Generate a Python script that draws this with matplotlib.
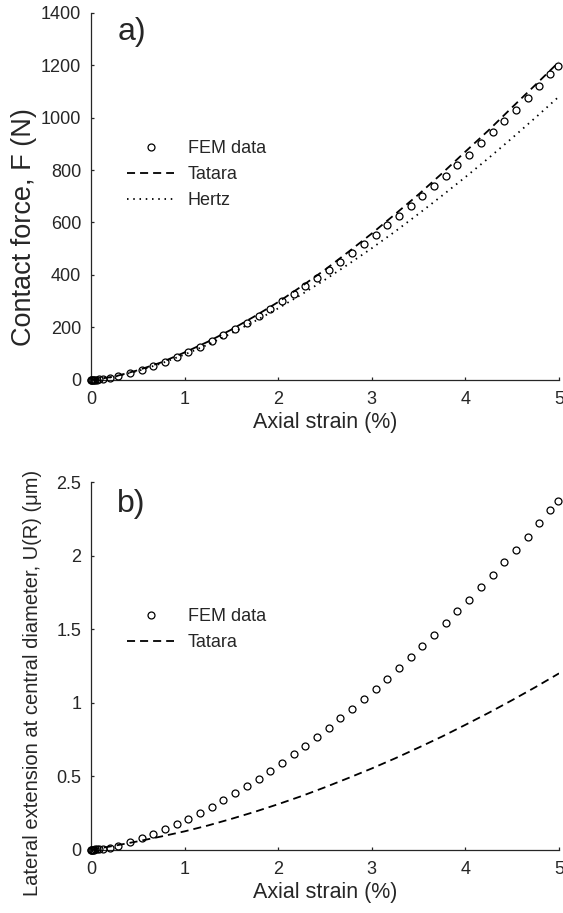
import numpy as np
import matplotlib
matplotlib.use("Agg")
import matplotlib.pyplot as plt
from matplotlib.lines import Line2D

# ------------------- DATEN -------------------
# FEM-Punkte (Dehnung in %)
fem_dehnung = [0, 0.005, 0.01, 0.02, 0.03, 0.045, 0.065, 0.09, 0.13, 0.2,
               0.29, 0.417, 0.54, 0.667, 0.79, 0.915, 1.04, 1.165, 1.29, 1.415,
               1.54, 1.665, 1.79, 1.915, 2.04, 2.165, 2.29, 2.415, 2.54, 2.665,
               2.79, 2.915, 3.04, 3.165, 3.29, 3.415, 3.54, 3.665, 3.79, 3.915,
               4.04, 4.165, 4.29, 4.415, 4.54, 4.665, 4.79, 4.905, 4.993]

# a) Kontaktkraft FEM (N)
fem_kraft = [0, 0.05, 0.1, 0.3, 0.5, 0.9, 1.5, 2.4, 4, 9,
             15, 25, 37, 52, 68, 86, 105, 125, 147, 170,
             194, 219, 245, 272, 300, 329, 358, 388, 419, 451,
             484, 518, 553, 589, 625, 662, 700, 739, 778, 818,
             859, 901, 943, 986, 1030, 1075, 1121, 1166, 1197]

# b) Querdehnung FEM (um)
fem_quer = [0, 0.0002, 0.0005, 0.001, 0.0015, 0.002, 0.003, 0.004, 0.007, 0.014,
            0.025, 0.05, 0.078, 0.105, 0.139, 0.173, 0.209, 0.25, 0.293, 0.336,
            0.384, 0.431, 0.481, 0.537, 0.592, 0.649, 0.707, 0.769, 0.83, 0.894,
            0.959, 1.025, 1.093, 1.163, 1.236, 1.311, 1.386, 1.463, 1.54, 1.622,
            1.701, 1.785, 1.869, 1.955, 2.041, 2.129, 2.22, 2.311, 2.372]

# Modellkurven
kurve_dehnung = [0, 0.25, 0.5, 0.75, 1.0, 1.25, 1.5, 1.75, 2.0, 2.25, 2.5,
                 2.75, 3.0, 3.25, 3.5, 3.75, 4.0, 4.25, 4.5, 4.75, 5.0]
tatara_kraft = [0, 13, 37, 67, 105, 146, 192, 243, 297, 357, 420,
                488, 558, 632, 707, 787, 870, 952, 1039, 1125, 1212]
hertz_kraft = [0, 12, 34, 63, 97, 135, 178, 224, 273, 326, 382,
               441, 502, 566, 633, 702, 773, 846, 922, 1000, 1080]
tatara_quer = [0, 0.027, 0.057, 0.09, 0.125, 0.165, 0.21, 0.258, 0.31, 0.365, 0.425,
               0.488, 0.553, 0.622, 0.695, 0.77, 0.85, 0.932, 1.018, 1.107, 1.2]

# ------------------- STIL -------------------
plt.rcParams['font.family'] = ['Liberation Sans', 'DejaVu Sans']
plt.rcParams['lines.scale_dashes'] = False
grau = '#262626'
gestrichelt = (0, (5.8, 3.6))
gepunktet = (0, (1.1, 3.4))
punkt_stil = dict(linestyle='none', marker='o', markersize=5, markerfacecolor='none',
                  markeredgecolor='black', markeredgewidth=0.9, clip_on=False, zorder=3)


def achse_stylen(ax):
    for s in ['top', 'right']:
        ax.spines[s].set_visible(False)
    for s in ['left', 'bottom']:
        ax.spines[s].set_color(grau)
        ax.spines[s].set_linewidth(0.9)
    ax.tick_params(direction='in', length=2.5, width=0.9, colors=grau, labelsize=13)
    ax.tick_params(axis='y', pad=7)
    ax.tick_params(axis='x', pad=8)
    ax.set_xlim(0, 5)
    ax.set_xticks([0, 1, 2, 3, 4, 5])
    ax.set_xlabel("Axial strain (%)", fontsize=15.5, color=grau, labelpad=3)


fig = plt.figure(figsize=(5.63, 9.13), dpi=100)

# ------------------- a) KONTAKTKRAFT -------------------
ax1 = fig.add_axes([0.1616, 0.5838, 0.8313, 0.4025])
ax1.plot(kurve_dehnung, tatara_kraft, color='black', linewidth=1.3, linestyle=gestrichelt)
ax1.plot(kurve_dehnung, hertz_kraft, color='black', linewidth=1.3, linestyle=gepunktet)
ax1.plot(fem_dehnung, fem_kraft, **punkt_stil)
achse_stylen(ax1)
ax1.set_ylim(0, 1400)
ax1.set_yticks(range(0, 1401, 200))
ax1.set_ylabel("Contact force, F (N)", fontsize=19.5, color=grau)
ax1.yaxis.set_label_coords(-0.115, 0.415)
ax1.text(0.28, 1295, "a)", fontsize=23, color=grau)

handles1 = [Line2D([], [], **{k: v for k, v in punkt_stil.items() if k != 'clip_on'}),
            Line2D([], [], color='black', linewidth=1.3, linestyle=gestrichelt),
            Line2D([], [], color='black', linewidth=1.3, linestyle=gepunktet)]
leg1 = ax1.legend(handles1, ["FEM data", "Tatara", "Hertz"], loc='upper left',
                  bbox_to_anchor=(0.078, 0.652), frameon=False, fontsize=13,
                  handlelength=2.55, handletextpad=0.8, labelspacing=0.5,
                  borderpad=0, borderaxespad=0)
for t in leg1.get_texts():
    t.set_color(grau)

# ------------------- b) QUERDEHNUNG -------------------
ax2 = fig.add_axes([0.1616, 0.0693, 0.8313, 0.4024])
ax2.plot(kurve_dehnung, tatara_quer, color='black', linewidth=1.3, linestyle=gestrichelt)
ax2.plot(fem_dehnung, fem_quer, **punkt_stil)
achse_stylen(ax2)
ax2.set_ylim(0, 2.5)
ax2.set_yticks([0, 0.5, 1, 1.5, 2, 2.5])
ax2.set_yticklabels(["0", "0.5", "1", "1.5", "2", "2.5"])
ax2.set_ylabel("Lateral extension at central diameter, U(R) (\u03bcm)", fontsize=14.5, color=grau)
ax2.yaxis.set_label_coords(-0.105, 0.454)
ax2.text(0.28, 2.30, "b)", fontsize=23, color=grau)

leg2 = ax2.legend(handles1[:2], ["FEM data", "Tatara"], loc='upper left',
                  bbox_to_anchor=(0.078, 0.657), frameon=False, fontsize=13,
                  handlelength=2.55, handletextpad=0.8, labelspacing=0.5,
                  borderpad=0, borderaxespad=0)
for t in leg2.get_texts():
    t.set_color(grau)

fig.savefig("out.png", dpi=100)
